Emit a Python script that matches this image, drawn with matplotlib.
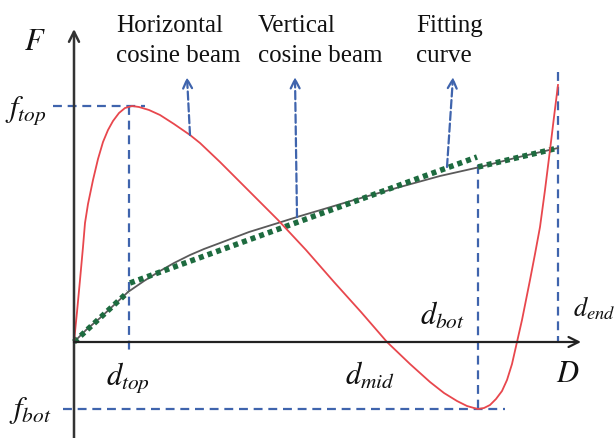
import matplotlib
matplotlib.use("Agg")
import matplotlib.pyplot as plt

plt.rcParams['font.family'] = ['Liberation Serif', 'DejaVu Serif']
plt.rcParams['mathtext.fontset'] = 'stix'

# characteristic points of the force-displacement curve
d_top, d_mid, d_bot, d_end = 55, 313, 404, 484
f_top, f_bot = 236, -67

# horizontal cosine beam (red)
red_d = [0, 3, 6, 9, 11, 14, 19, 24, 29, 34, 39, 45, 51, 58, 65, 75, 86, 100,
         116, 126, 146, 175, 204, 232, 260, 287, 313, 336, 356, 370, 383, 393,
         400, 404, 410, 416, 422, 428, 433, 438, 443, 448, 452, 456, 461, 466,
         471, 476, 480, 484]
red_f = [0, 30, 62, 95, 119, 138, 162, 183, 200, 212, 221, 229, 234, 236, 235,
         232, 227, 218, 207, 199, 180, 151, 122, 92, 60, 30, 0, -22, -40, -51,
         -59, -64, -66, -67, -66, -63, -57, -49, -38, -22, 0, 22, 42, 62, 88,
         115, 152, 192, 225, 257]

# vertical cosine beam (grey)
grey_d = [0, 12, 26, 40, 54, 70, 86, 100, 116, 130, 146, 175, 204, 223, 250,
          280, 326, 366, 406, 445, 484]
grey_f = [0, 12, 24, 37, 50, 61, 71, 79, 87, 93, 99, 110, 119, 125, 133, 142,
          155, 166, 175, 185, 194]

# fitting curve, three linear pieces
fit_pieces = [([0, 54], [0, 50]),
              ([56, 403], [59, 185]),
              ([404, 484], [175, 194])]

fig = plt.figure(figsize=(6.15, 4.38), dpi=100)
ax = fig.add_axes([0, 0, 1, 1])
ax.set_xlim(-74, 541)
ax.set_ylim(-96, 342)
ax.axis('off')

blue = '#3f64ad'
dash = (0, (4, 2.6))

# guide lines
ax.plot([-21, 71], [f_top, f_top], color=blue, lw=1.6, ls=dash)
ax.plot([d_top, d_top], [f_top, -8], color=blue, lw=1.6, ls=dash)
ax.plot([-11, 431], [f_bot, f_bot], color=blue, lw=1.6, ls=dash)
ax.plot([d_bot, d_bot], [177, f_bot], color=blue, lw=1.6, ls=dash)
ax.plot([d_end, d_end], [270, 0], color=blue, lw=1.6, ls=dash)

# axes with arrow heads
ax.annotate('', xy=(0, 313), xytext=(0, -96),
            arrowprops=dict(arrowstyle='->', color='#333333', lw=1.8,
                            mutation_scale=18, shrinkA=0, shrinkB=0))
ax.annotate('', xy=(507, 0), xytext=(0, 0),
            arrowprops=dict(arrowstyle='->', color='#222222', lw=1.6,
                            mutation_scale=18, shrinkA=0, shrinkB=0))

ax.plot(grey_d, grey_f, color='#5a5a5a', lw=1.3)
for xs, ys in fit_pieces:
    ax.plot(xs, ys, color='#1d6b3f', lw=4, ls=(0, (0.9, 0.75)),
            dash_capstyle='butt')
ax.plot(red_d, red_f, color='#e8474d', lw=1.3, solid_joinstyle='round')

# pointer arrows from the labels
for base, tip in [((116, 207), (113, 265)),
                  ((223, 125), (221, 265)),
                  ((373, 175), (379, 265))]:
    ax.annotate('', xy=tip, xytext=base,
                arrowprops=dict(arrowstyle='->', color=blue, lw=1.6, ls='--',
                                mutation_scale=16, shrinkA=0, shrinkB=0))

txt = dict(fontsize=18, color='#111111', va='baseline', ha='left')
ax.text(42, 310, 'Horizontal', **txt)
ax.text(42, 280, 'cosine beam', **txt)
ax.text(184, 310, 'Vertical', **txt)
ax.text(184, 280, 'cosine beam', **txt)
ax.text(342, 310, 'Fitting', **txt)
ax.text(342, 280, 'curve', **txt)

m = dict(fontsize=22, color='#111111', ha='center', va='center')
ax.text(-39, 300, r'$F$', **m)
ax.text(-48, 232, r'$f_{top}$', **m)
ax.text(-44, -68, r'$f_{bot}$', **m)
ax.text(54, -36, r'$d_{top}$', **m)
ax.text(296, -34, r'$d_{mid}$', **m)
ax.text(368, 26, r'$d_{bot}$', **m)
ax.text(499, 34, r'$d_{end}$', fontsize=19, color='#111111', ha='left', va='center')
ax.text(494, -33, r'$D$', **m)

fig.savefig('out.png', dpi=100)
